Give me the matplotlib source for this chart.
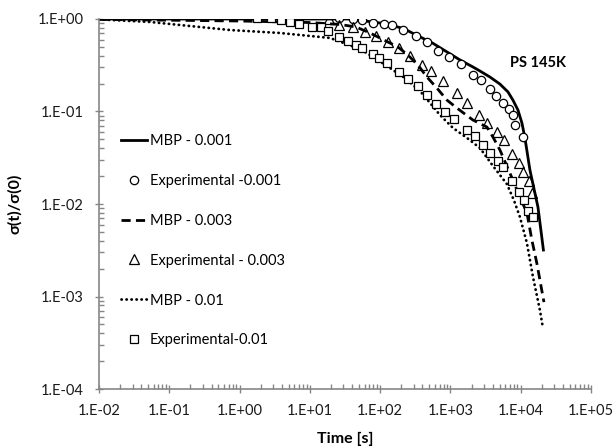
import numpy as np
import matplotlib
matplotlib.use("Agg")
import matplotlib.pyplot as plt
from matplotlib.ticker import LogLocator, FuncFormatter, NullFormatter

plt.rcParams['font.family'] = ['Lato', 'DejaVu Sans']
plt.rcParams['font.size'] = 10.5

# model curves (time [s], sigma ratio)
t_mbp1 = [0.01, 1.01, 10.0, 37.2, 110, 211, 564, 1365, 2089, 2630, 3648, 5058,
          6577, 7745, 9120, 10400, 11480, 13520, 17580, 21040]
s_mbp1 = [1.0, 1.0, 1.0, 1.0, 0.897, 0.793, 0.546, 0.361, 0.303, 0.274, 0.236, 0.198,
          0.163, 0.133, 0.104, 0.0752, 0.0518, 0.0233, 0.00929, 0.00318]

t_mbp3 = [0.01, 1.01, 10.0, 26.8, 45.3, 71.6, 106, 179, 248, 345, 463, 643, 891,
          1236, 2089, 3304, 4027, 5058, 7015, 9750, 12250, 14420, 16980, 21400]
s_mbp3 = [0.99, 0.951, 0.916, 0.873, 0.820, 0.706, 0.608, 0.498, 0.408, 0.318, 0.236,
          0.179, 0.133, 0.109, 0.0809, 0.0679, 0.053, 0.0384, 0.0216, 0.0119, 0.0080,
          0.00408, 0.00228, 0.00087]

t_mbp10 = [0.01, 0.0531, 0.142, 0.730, 3.76, 19.3, 51.6, 84.3, 138, 225, 368, 511,
           710, 1086, 1718, 2630, 4027, 6368, 8000, 9750, 12250, 14930, 18750, 20370]
s_mbp10 = [0.99, 0.929, 0.861, 0.760, 0.706, 0.624, 0.474, 0.378, 0.295, 0.230, 0.167,
           0.124, 0.0916, 0.0664, 0.0518, 0.0403, 0.0258, 0.0164, 0.011, 0.00723,
           0.00378, 0.00163, 0.000714, 0.000492]

# experimental points
t_exp1 = [26.2, 40.6, 54.6, 78.2, 113, 147, 213, 323, 459, 670, 952, 1397, 2110,
          2690, 3648, 4396, 5525, 6855, 7670, 8265, 10860]
s_exp1 = [1.02, 0.99, 0.975, 0.912, 0.883, 0.855, 0.76, 0.655, 0.564, 0.454, 0.385,
          0.326, 0.246, 0.219, 0.174, 0.147, 0.123, 0.107, 0.091, 0.0715, 0.0534]

t_exp3 = [18.9, 26.2, 40.6, 60.8, 87.1, 130, 187, 265, 389, 528, 790, 1225, 1700,
          2518, 3337, 4540, 5768, 7500, 9330, 10860, 12950, 14420]
s_exp3 = [1.0, 0.872, 0.826, 0.729, 0.655, 0.560, 0.482, 0.398, 0.318, 0.276, 0.214,
          0.157, 0.124, 0.091, 0.0745, 0.0605, 0.0492, 0.0347, 0.0279, 0.0223, 0.0179,
          0.0132]

t_exp10 = [1.75, 2.8, 3.88, 5.2, 7.07, 10.7, 14.3, 18.3, 25.9, 35.2, 45.3, 54.6, 78.2,
           97.1, 126, 187, 251, 341, 459, 622, 844, 1132, 1734, 2208, 2929, 3648,
           4786, 5675, 7500, 9520, 11110, 12790, 14920]
s_exp10 = [1.02, 1.02, 0.975, 0.928, 0.877, 0.826, 0.813, 0.747, 0.639, 0.575, 0.527,
           0.482, 0.418, 0.376, 0.332, 0.269, 0.223, 0.189, 0.151, 0.1205, 0.0988,
           0.0824, 0.063, 0.0543, 0.0431, 0.0353, 0.0292, 0.0253, 0.0177, 0.0136,
           0.0110, 0.0085, 0.0073]

fig = plt.figure(figsize=(6.16, 4.48), dpi=100)
ax = fig.add_axes([99/616, 1-389/448, 492/616, 370/448])

ax.plot(t_mbp1, s_mbp1, color='k', lw=2.0, label='MBP - 0.001')
ax.plot(t_exp1, s_exp1, ls='none', marker='o', mfc='white', mec='k', ms=6, mew=0.9,
        label='Experimental -0.001')
ax.plot(t_mbp3, s_mbp3, color='k', lw=2.0, ls=(0, (3.3, 1.9)), label='MBP - 0.003')
ax.plot(t_exp3, s_exp3, ls='none', marker='^', mfc='none', mec='k', ms=6.5, mew=0.9,
        label='Experimental - 0.003')
ax.plot(t_mbp10, s_mbp10, color='k', lw=2.0, ls=(0, (0.1, 1.7)), dash_capstyle='round',
        label='MBP - 0.01')
ax.plot(t_exp10, s_exp10, ls='none', marker='s', mfc='white', mec='k', ms=5.8, mew=0.9,
        label='Experimental-0.01')

ax.set_xscale('log')
ax.set_yscale('log')
ax.set_xlim(1e-2, 1e5)
ax.set_ylim(1e-4, 1)

fmt = FuncFormatter(lambda v, p: "1.E{:+03d}".format(int(round(np.log10(v)))))
for axis in (ax.xaxis, ax.yaxis):
    axis.set_major_locator(LogLocator(base=10, numticks=12))
    axis.set_minor_locator(LogLocator(base=10, subs=np.arange(2, 10), numticks=12))
    axis.set_major_formatter(fmt)
    axis.set_minor_formatter(NullFormatter())

for s in ('top', 'right'):
    ax.spines[s].set_visible(False)
for s in ('left', 'bottom'):
    ax.spines[s].set_color('#868686')
    ax.spines[s].set_linewidth(1.2)
ax.tick_params(which='major', direction='inout', length=6, width=1, color='#868686',
               labelsize=10.5, labelcolor='#1a1a1a', pad=8)
ax.tick_params(which='minor', direction='in', length=3.5, width=1, color='#868686')

ax.set_xlabel('Time [s]', fontsize=11.5, fontweight='bold', labelpad=10)
ax.set_ylabel('σ(t)/σ(0)', fontsize=11.5, fontweight='bold', labelpad=11)

ax.text(17580, 0.334, 'PS 145K', fontsize=10.5, fontweight='bold', ha='center', va='center')

ax.legend(loc='upper left', bbox_to_anchor=(0.045, 0.69), frameon=False, numpoints=1,
          handlelength=1.75, handletextpad=0.2, labelspacing=1.78, borderpad=0,
          borderaxespad=0, fontsize=10.5)

fig.savefig('out.png', dpi=100)
